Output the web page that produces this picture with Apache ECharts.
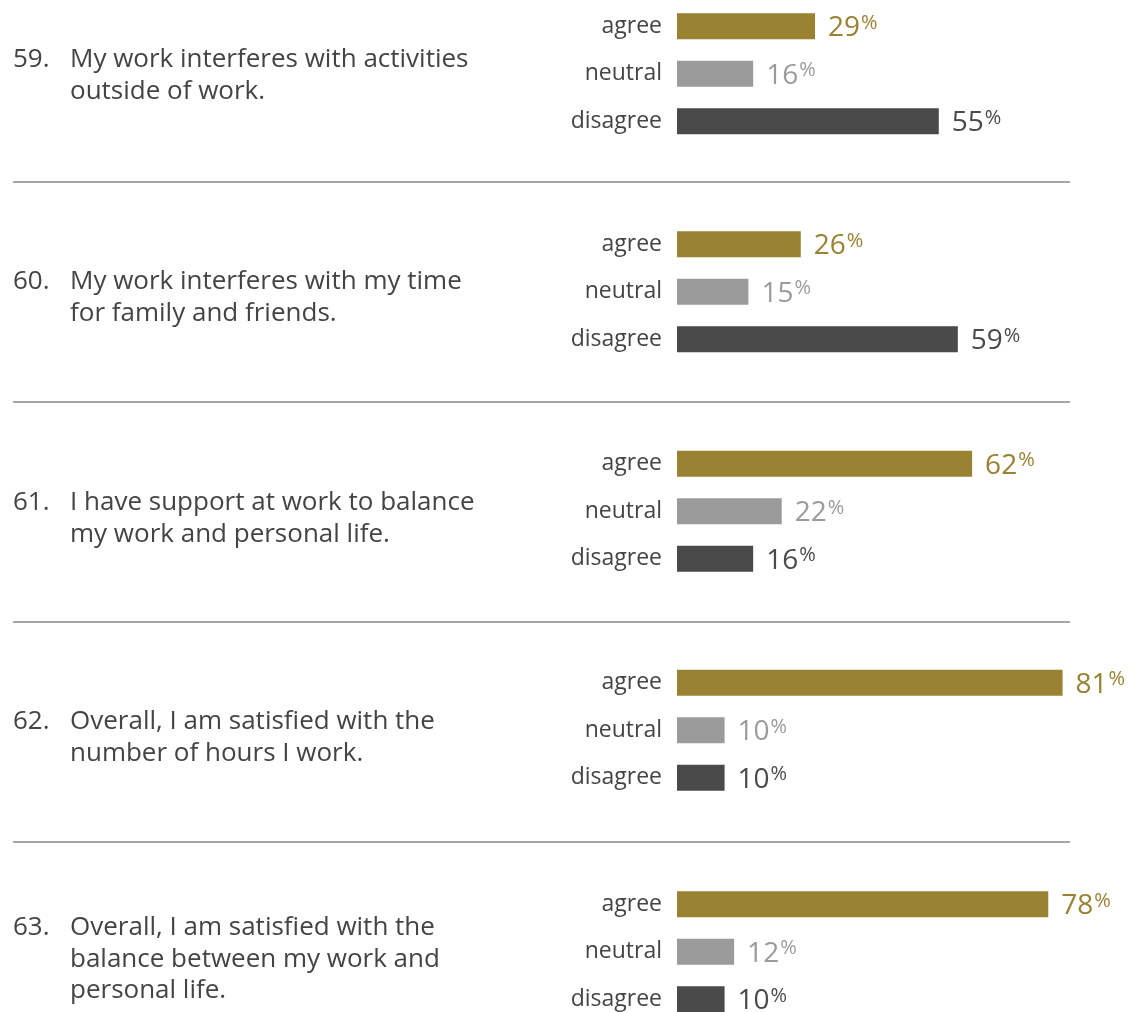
<!DOCTYPE html>
<html>
<head>
<meta charset="utf-8">
<script src="https://cdn.jsdelivr.net/npm/echarts@6/dist/echarts.min.js"></script>
<style>
html,body{margin:0;padding:0;background:#fff;}
#c{width:1135px;height:1012px;}
</style>
</head>
<body>
<div id="c"></div>
<script>
// ---- data ----
const categories = ['agree', 'neutral', 'disagree'];
const questionNumbers = ['59.', '60.', '61.', '62.', '63.'];
const questionLines = [
  ['My work interferes with activities', 'outside of work.'],
  ['My work interferes with my time', 'for family and friends.'],
  ['I have support at work to balance', 'my work and personal life.'],
  ['Overall, I am satisfied with the', 'number of hours I work.'],
  ['Overall, I am satisfied with the', 'balance between my work and', 'personal life.']
];
const agreeValues    = [29, 26, 62, 81, 78];
const neutralValues  = [16, 15, 22, 10, 12];
const disagreeValues = [55, 59, 16, 10, 10];

// ---- style / layout ----
const FONT = '"Open Sans", "Noto Sans", sans-serif';
const colors = ['#998232', '#9b9b9b', '#4a4a4a'];
const gridTops = [2.5, 220.5, 440, 659, 880.5];
const textFirstY = [58, 280, 501, 720, 926];
const dividerYs = [182, 402, 622, 842];

const chart = echarts.init(document.getElementById('c'), null, {renderer: 'canvas'});

const grids = [], xAxes = [], yAxes = [], series = [], graphics = [];
for (let i = 0; i < 5; i++) {
  grids.push({left: 677, width: 476, top: gridTops[i], height: 142.5, containLabel: false, outerBoundsMode: 'none'});
  xAxes.push({type: 'value', gridIndex: i, min: 0, max: 100, show: false});
  yAxes.push({
    type: 'category', gridIndex: i, data: categories, inverse: true,
    axisLine: {show: false}, axisTick: {show: false}, splitLine: {show: false},
    axisLabel: {fontFamily: FONT, fontSize: 23, color: '#444', margin: 15}
  });
  const vals = [agreeValues[i], neutralValues[i], disagreeValues[i]];
  series.push({
    type: 'bar', xAxisIndex: i, yAxisIndex: i, barWidth: 26, silent: true,
    data: vals.map((v, k) => ({
      value: v,
      itemStyle: {color: colors[k]},
      label: {
        color: colors[k],
        rich: {
          v: {fontFamily: FONT, fontSize: 28, color: colors[k], lineHeight: 32, verticalAlign: 'bottom'},
          p: {fontFamily: FONT, fontSize: 20, color: colors[k], lineHeight: 32, verticalAlign: 'top', padding: [3, 0, 0, 1]}
        }
      }
    })),
    label: {
      show: true, position: 'right', distance: 13,
      formatter: p => '{v|' + p.value + '}{p|%}'
    }
  });
  graphics.push({
    type: 'text', left: 13, top: textFirstY[i] - 11,
    style: {text: questionNumbers[i], font: '26px ' + FONT, fill: '#444'}
  });
  questionLines[i].forEach((line, j) => {
    graphics.push({
      type: 'text', left: 70, top: textFirstY[i] - 11 + j * 31.5,
      style: {text: line, font: '26px ' + FONT, fill: '#444'}
    });
  });
}
dividerYs.forEach(y => {
  graphics.push({
    type: 'line', shape: {x1: 13, y1: y, x2: 1070, y2: y},
    style: {stroke: '#8a8a8a', lineWidth: 1.3}
  });
});

chart.setOption({
  animation: false,
  backgroundColor: '#fff',
  grid: grids, xAxis: xAxes, yAxis: yAxes, series: series,
  graphic: graphics
});
</script>
</body>
</html>
